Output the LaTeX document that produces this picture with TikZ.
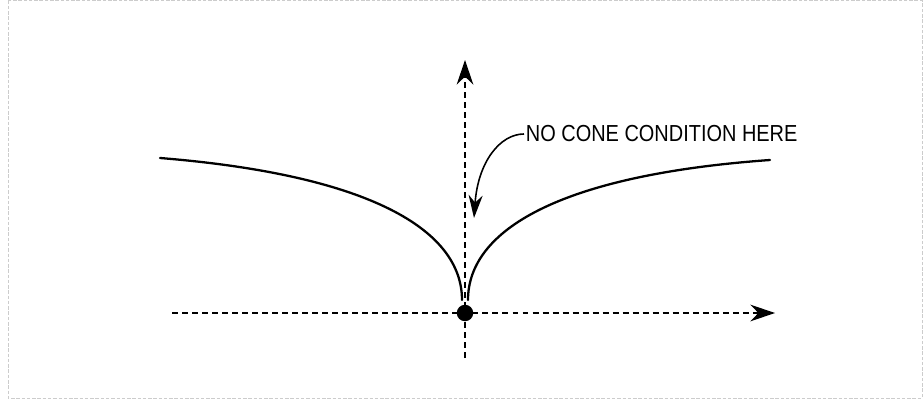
\documentclass[tikz,border=0pt]{standalone}
\usepackage{fontspec}
\setmainfont{Liberation Sans}
\usetikzlibrary{arrows.meta}

\begin{document}
\begin{tikzpicture}[x=0.02cm, y=-0.02cm,
		>={Stealth[length=14pt, width=9.5pt]}, line width=0.6pt,
		asse/.style={line width=0.8pt, dash pattern=on 3.4pt off 2.3pt},
		curva/.style={line width=1.3pt, line cap=round},
		punto/.style={circle, fill, inner sep=0pt, minimum size=0.33cm},
		etichetta/.style={inner sep=1pt, xscale=0.86, font=\fontsize{13.2}{15}\selectfont},
		richiamo/.style={line width=0.9pt, -{Stealth[length=13pt, width=8pt]}}]
	\useasboundingbox (0,0) rectangle (923,402);
	
	%% cornice tratteggiata
	\draw[black!20, line width=0.5pt, dash pattern=on 2pt off 1pt] (8,0.5) rectangle (922,398);
	
	%% assi
	\coordinate (O) at (465,313);
	\coordinate (xinizio) at (172,313);
	\coordinate (xfine) at (775,313);
	\coordinate (yinizio) at (465,358);
	\coordinate (yfine) at (465,60);
	\draw[asse,->] (xinizio) -- (xfine);
	\draw[asse,->] (yinizio) -- (yfine);
	
	%% i due rami della frontiera, cuspide nell'origine
	\draw[curva] (462,300) .. controls (462,230) and (370,175) .. (160,158);
	\draw[curva] (468,300) .. controls (468,230) and (560,175) .. (770,160);
	\node[punto] (P) at (O) {};
	
	%% richiamo
	\node[etichetta, anchor=west] (nota) at (524,134) {NO CONE CONDITION HERE};
	\draw[richiamo] (nota.west) .. controls (500,134) and (478,162) .. (474,218);
\end{tikzpicture}
\end{document}
